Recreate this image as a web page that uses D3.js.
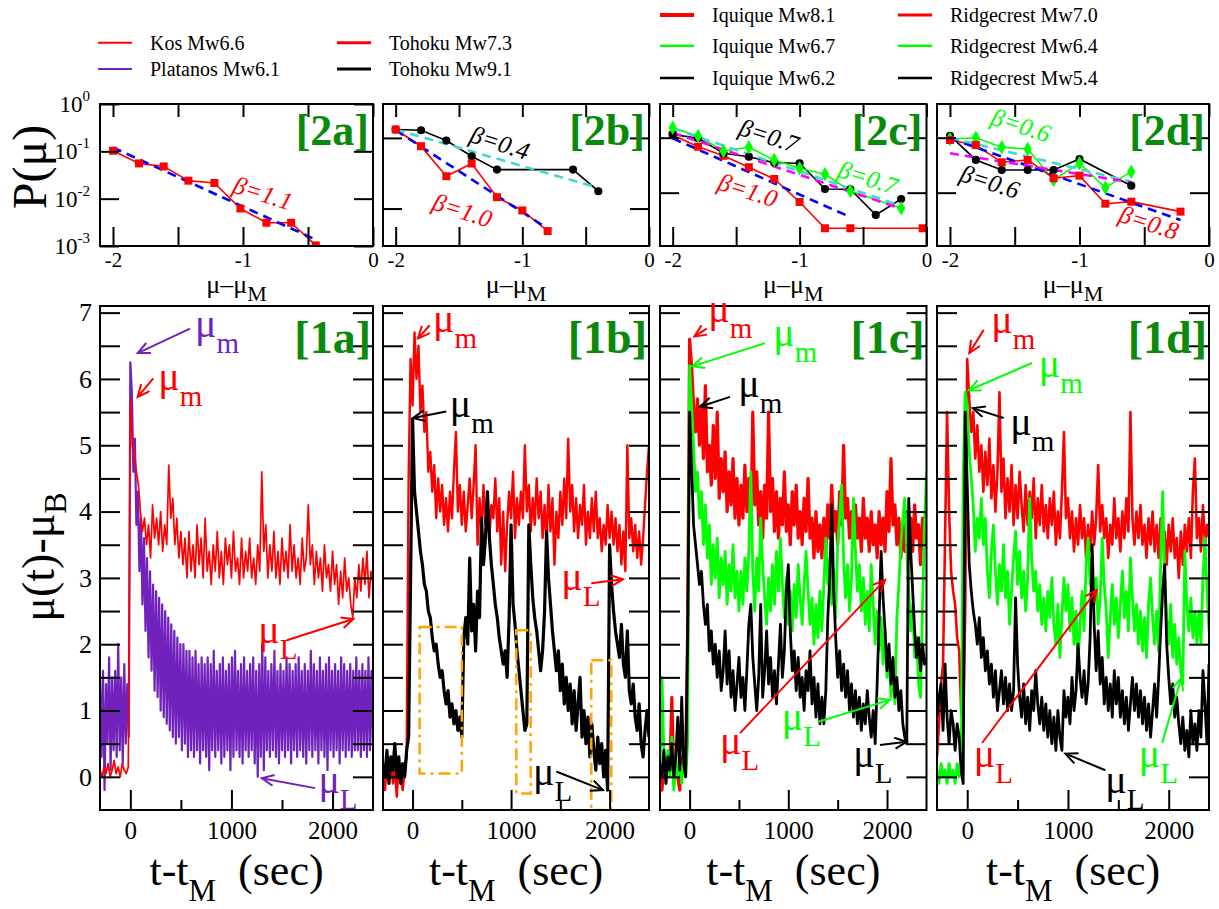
<!DOCTYPE html>
<html>
<head>
<meta charset="utf-8">
<script src="https://cdn.jsdelivr.net/npm/d3@7"></script>
<style>
  body { margin: 0; background: #fff; }
  svg text { font-family: "Liberation Serif", "Times New Roman", serif; }
</style>
</head>
<body>
<div id="chart"></div>
<script>
// ---------- time series mu(t)-mu_B, samples start at t-tM = -300 s ----------
const tStart = -300;
const stepDefault = 20, platanosStep = 15;

const kosMu = [
  0.1, 0.0, 0.15, 0.05, 0.2,  0.0, 0.1, 0.25, 0.05, 0.15,  0.0, 0.2, 0.1, 0.05, 0.15,
  5.7, 5.0, 4.9, 4.6, 4.4,  4.0, 3.7, 3.9, 3.5, 3.8,  3.3, 4.1, 3.6, 3.9, 3.5,
  4.0, 3.4, 3.8, 3.5, 4.7,  3.9, 4.2, 3.5, 3.9, 3.3,  3.7, 3.2, 3.6, 3.0, 3.7,
  3.1, 3.5, 3.0, 3.8, 3.2,  3.6, 3.0, 3.9, 3.1, 3.4,  2.9, 3.5, 3.1, 3.7, 3.0,
  3.4, 2.9, 3.6, 3.2, 3.5,  3.0, 3.7, 3.1, 3.3, 2.9,  3.6, 3.0, 3.4, 3.1, 3.6,
  3.0, 3.3, 2.9, 3.5, 3.1,  4.6, 3.4, 3.8, 3.0, 3.5,  3.1, 3.7, 3.0, 3.4, 2.9,
  3.6, 3.1, 3.4, 3.0, 3.8,  3.1, 3.5, 3.0, 3.3, 2.9,  3.6, 3.1, 3.3, 4.1, 3.2,
  3.5, 2.9, 3.4, 3.0, 3.3,  2.8, 3.5, 3.0, 3.2, 2.8,  3.4, 2.9, 3.2, 2.6, 3.1,
  2.7, 3.3, 2.8, 3.0, 2.6,  2.4, 3.0, 2.7, 3.2, 2.8,  3.3, 2.9, 3.4, 2.7, 3.1,
  2.9
];

const platanosMu = [
  1.5, 0.3, 1.6, -0.2, 1.4, 0.5, 1.8, 0.1, 1.5, 0.4, 1.6, 0.3, 2.0, 0.4, 1.5, 0.2, 1.7, 0.5, 1.4, 0.6,
  6.25, 5.8, 4.6, 5.1, 3.8, 4.3, 3.1, 3.9, 2.6, 3.6,
  2.2, 3.3, 1.8, 3.1, 1.6, 2.9, 1.3, 2.8, 1.2, 2.7,
  1.0, 2.6, 0.9, 2.5, 0.8, 2.4, 0.7, 2.3, 0.6, 2.2,
  0.5, 2.1, 0.6, 2.0, 0.4, 2.0, 0.5, 1.9, 0.3, 1.9,
  0.4, 1.8, 0.3, 1.9, 0.4, 1.7, 0.2, 1.8, 0.4, 1.7,
  0.3, 1.8, 0.1, 1.7, 0.4, 1.9, 0.3, 1.6, 0.4, 1.7,
  0.2, 1.8, 0.3, 1.6, 0.4, 1.7, 0.1, 1.8, 0.3, 1.9,
  0.4, 1.6, 0.3, 1.7, 0.2, 1.8, 0.4, 1.6, 0.3, 1.7,
  0.4, 1.8, 0.2, 1.6, 0.0, 1.7, 0.3, 2.0, 0.1, 1.8,
  0.4, 1.6, 0.3, 1.7, 0.4, 1.9, 0.3, 1.6, 0.2, 1.7,
  0.4, 1.6, 0.3, 1.8, 0.4, 1.7, 0.2, 1.6, 0.4, 1.7,
  0.3, 1.8, 0.4, 1.6, 0.3, 1.7, 0.2, 1.6, 0.4, 1.9,
  0.3, 1.7, 0.4, 1.6, 0.2, 1.8, 0.4, 1.6, 0.3, 1.7,
  0.1, 1.8, 0.4, 1.6, 0.3, 1.7, 0.4, 1.6, 0.2, 1.8,
  0.4, 1.7, 0.3, 1.6, 0.4, 1.7, 0.3, 1.6, 0.4, 1.8,
  0.4, 1.6, 0.3, 1.7, 0.4, 1.6, 0.3, 1.8, 0.4, 1.6,
  0.5
];

const tohoku73Mu = [
  0.1, -0.2, 0.2, 0.0, 0.3,  -0.1, 0.1, -0.3, 0.2, 0.0,  -0.2, 0.1, 0.3, 4.5, 6.3,
  5.6, 6.7, 6.0, 6.5, 5.5,  5.9, 5.2, 5.5, 4.6, 4.9,  4.3, 4.7, 3.9, 4.5, 4.0,
  4.4, 3.8, 4.2, 3.7, 4.3,  3.9, 4.6, 5.2, 4.0, 4.4,  3.8, 4.3, 3.7, 4.1, 4.5,
  3.9, 4.4, 5.0, 3.5, 4.2,  3.7, 4.4, 3.8, 4.2, 3.6,  4.1, 3.9, 4.5, 3.7, 4.2,
  3.2, 4.0, 3.1, 3.8, 4.3,  3.9, 4.6, 3.6, 4.2, 3.8,  4.3, 3.9, 5.0, 4.0, 4.4,
  3.7, 4.2, 3.8, 4.5, 3.9,  4.3, 3.6, 4.1, 3.5, 4.4,  3.7, 4.2, 3.2, 4.0, 3.6,
  4.3, 3.8, 4.5, 3.9, 5.1,  4.0, 4.4, 3.7, 4.2, 3.6,  4.1, 3.8, 4.4, 3.5, 4.0,
  3.6, 4.2, 3.7, 4.3, 3.6,  3.9, 3.4, 3.8, 3.5, 4.1,  3.6, 4.0, 3.5, 3.9, 3.4,
  3.8, 3.2, 3.7, 3.1, 5.0,  3.6, 3.9, 3.4, 3.8, 3.3,  3.7, 3.2, 3.6, 4.1, 4.6,
  5.0
];

const tohoku91Mu = [
  0.2, 0.0, 0.4, -0.1, 0.3,  0.1, 0.5, 0.0, 0.3, -0.1,  0.2, 0.0, 0.4, 0.6, 3.0,
  5.4, 4.3, 4.0, 3.7, 3.4,  3.2, 2.9, 2.8, 2.5, 2.4,  2.1, 1.9, 2.0, 1.7, 1.5,
  1.6, 1.3, 1.1, 1.3, 0.9,  1.1, 0.8, 1.0, 0.7, 0.9,  0.6, 2.1, 2.4, 2.0, 3.3,
  2.2, 2.6, 1.9, 2.8, 2.4,  3.9, 3.2, 3.6, 4.3, 3.6,  3.2, 2.9, 2.6, 2.4, 2.1,
  1.9, 1.7, 1.9, 1.5, 2.4,  3.8, 2.6, 2.3, 1.9, 1.6,  1.3, 1.0, 0.7, 0.8, 3.8,
  3.2, 2.7, 2.4, 2.2, 1.9,  1.6, 1.9, 2.5, 3.7, 3.0,  2.6, 2.2, 1.9, 1.6, 1.9,
  1.3, 1.7, 1.1, 1.5, 1.0,  1.4, 0.8, 1.3, 0.7, 1.1,  1.5, 0.6, 1.0, 0.5, 0.9,
  0.3, 0.8, 0.4, 0.1, 0.6,  0.2, 0.5, 0.0, 0.4, -0.2,  3.5, 2.9, 2.5, 2.2, 2.0,
  1.8, 2.3, 1.7, 1.5, 2.2,  1.3, 1.1, 1.4, 0.9, 0.7,  1.1, 0.5, 0.3, 0.7, 1.0,
  0.6
];

const iquique81Mu = [
  0.1, -0.2, 0.2, 0.0, 0.3,  0.1, 1.2, -0.1, 0.2, 0.0,  -0.2, 0.3, 0.1, 0.2, 2.2,
  6.6, 6.2, 5.6, 5.2, 5.7,  5.0, 5.6, 4.8, 5.9, 4.6,  5.0, 4.4, 5.3, 4.5, 5.5,
  4.2, 4.8, 4.3, 4.9, 4.0,  4.6, 4.1, 4.8, 3.9, 4.5,  3.8, 4.4, 3.9, 4.7, 4.0,
  4.5, 3.7, 5.5, 4.1, 4.6,  3.8, 4.3, 3.6, 4.4, 3.9,  5.5, 4.0, 4.5, 3.7, 4.3,
  3.6, 4.2, 3.8, 4.6, 3.7,  4.1, 3.5, 4.3, 3.8, 4.4,  3.6, 4.0, 3.5, 4.2, 3.7,
  4.5, 3.6, 3.9, 3.3, 4.0,  3.4, 3.8, 3.3, 3.9, 3.4,  4.1, 3.6, 4.4, 3.7, 4.0,
  3.5, 4.3, 3.8, 5.0, 3.9,  4.2, 3.6, 4.0, 3.5, 4.1,  3.6, 3.9, 3.4, 4.2, 3.6,
  3.9, 3.4, 4.0, 3.5, 3.8,  3.3, 4.0, 3.5, 3.9, 3.4,  4.3, 3.7, 4.8, 3.8, 4.1,
  3.5, 3.9, 3.3, 3.8, 3.4,  4.0, 3.5, 3.9, 3.4, 4.1,  3.6, 3.8, 3.2, 3.9, 3.5,
  3.7
];

const iquique67Mu = [
  0.1, 1.5, 0.3, -0.1, 0.4,  0.0, 0.6, -0.2, 0.3, 0.0,  0.2, -0.1, 0.3, 0.0, 0.5,
  6.2, 5.6, 5.0, 4.3, 4.6,  3.9, 4.3, 3.5, 4.1, 3.3,  3.8, 2.9, 3.5, 3.0, 3.6,
  2.7, 3.3, 2.9, 3.4, 2.6,  3.2, 2.8, 3.5, 2.7, 3.1,  2.5, 3.1, 2.6, 3.3, 2.8,
  3.4, 4.6, 3.1, 2.5, 3.3,  2.8, 3.9, 3.2, 2.7, 2.3,  3.0, 2.5, 3.2, 2.6, 3.4,
  2.8, 3.6, 2.9, 2.4, 3.0,  2.3, 2.8, 2.2, 2.9, 2.4,  3.2, 2.7, 2.3, 2.9, 3.4,
  2.8, 2.3, 2.7, 2.0, 2.6,  2.1, 2.8, 2.2, 2.9, 3.6,  2.9, 3.3, 2.6, 3.1, 2.4,
  3.5, 3.9, 4.4, 3.3, 2.7,  3.2, 2.5, 3.0, 4.2, 3.4,  2.8, 3.2, 2.5, 3.0, 2.3,
  2.8, 2.2, 3.2, 2.6, 2.0,  2.5, 1.9, 2.4, 1.7, 2.2,  1.5, 1.9, 1.2, 1.6, 1.1,
  2.4, 2.9, 3.5, 3.9, 4.2,  3.4, 2.8, 2.2, 2.6, 1.8,  2.1, 1.4, 1.2, 2.6, 3.8,
  4.6
];

const iquique62Mu = [
  0.2, 0.0, 0.4, -0.1, 0.3,  0.1, 0.5, 0.0, 0.3, 0.9,  0.1, 1.2, 0.2, 0.0, 2.1,
  5.5, 4.7, 3.8, 3.5, 3.2,  2.9, 3.1, 2.6, 2.3, 2.6,  1.9, 2.2, 1.7, 2.0, 1.5,
  1.9, 1.3, 1.6, 2.2, 1.4,  1.9, 1.2, 1.6, 1.0, 1.4,  1.8, 1.2, 1.5, 1.0, 1.6,
  2.3, 2.6, 1.8, 1.4, 1.0,  1.5, 2.6, 1.2, 1.6, 2.2,  1.4, 1.8, 1.2, 1.6, 1.1,
  1.7, 2.3, 1.5, 1.9, 2.8,  3.2, 2.2, 1.6, 1.9, 1.3,  1.8, 1.2, 1.5, 1.0, 1.6,
  1.3, 1.9, 1.1, 1.5, 0.9,  1.4, 0.8, 1.2, 0.8, 1.3,  2.4, 3.0, 4.1, 2.8, 2.1,
  1.5, 1.9, 1.3, 1.7, 1.2,  1.6, 1.0, 1.4, 0.9, 1.3,  0.8, 1.2, 0.7, 1.1, 0.8,
  1.3, 0.9, 0.6, 1.0, 0.5,  1.4, 2.4, 3.4, 2.7, 2.2,  1.6, 2.0, 1.4, 1.8, 1.2,
  1.5, 1.0, 1.3, 0.8, 0.6,  0.5, 4.2, 3.4, 2.8, 2.2,  1.8, 2.1, 1.6, 2.0, 1.7,
  1.8
];

const ridge70Mu = [
  0.3, 0.8, 1.4, 1.7, 3.6,  5.5, 4.0, 3.1, 2.8, 2.6,  2.1, 1.9, 1.0, 0.8, 2.5,
  6.3, 5.7, 5.2, 5.5, 4.8,  5.3, 4.6, 5.0, 4.3, 4.9,  4.4, 5.1, 4.2, 4.7, 4.0,
  4.6, 5.8, 4.3, 4.8, 3.9,  4.5, 4.0, 4.7, 3.8, 4.4,  3.9, 4.6, 4.1, 3.7, 4.4,
  3.8, 4.3, 3.9, 4.5, 3.6,  4.2, 3.8, 4.4, 3.7, 4.1,  3.6, 4.2, 3.8, 4.3, 3.5,
  4.0, 3.6, 4.3, 5.2, 3.9,  4.2, 3.6, 4.0, 3.4, 3.9,  3.5, 4.1, 3.6, 3.9, 3.3,
  3.8, 3.4, 4.0, 3.5, 3.9,  4.7, 3.7, 4.1, 3.6, 3.9,  3.3, 3.8, 3.5, 4.2, 3.6,
  3.9, 3.4, 4.0, 3.6, 4.2,  3.7, 5.5, 3.9, 3.5, 4.0,  3.6, 4.1, 3.5, 3.8, 3.3,
  3.9, 3.5, 4.0, 3.4, 3.8,  3.3, 3.9, 3.5, 3.7, 3.2,  3.8, 3.4, 3.9, 3.3, 3.6,
  3.0, 3.7, 3.2, 3.8, 3.4,  3.9, 3.3, 4.3, 4.8, 3.6,  3.9, 3.4, 4.1, 3.5, 3.8,
  3.6
];

const ridge64Mu = [
  0.1, -0.1, 0.2, 0.0, 0.1,  -0.1, 0.2, 0.0, 0.1, -0.1,  0.2, 0.0, 0.1, 4.5, 5.8,
  5.6, 4.9, 4.5, 4.1, 3.4,  3.9, 3.6, 4.2, 3.5, 3.9,  3.1, 2.7, 3.4, 3.8, 3.1,
  2.6, 3.2, 2.8, 3.5, 2.7,  3.1, 2.3, 2.8, 3.3, 3.7,  2.9, 3.4, 2.7, 3.1, 2.5,
  3.0, 4.2, 3.3, 2.8, 3.1,  2.5, 2.9, 2.3, 2.7, 2.2,  2.8, 2.4, 3.0, 2.3, 2.0,
  2.6, 1.8, 2.4, 3.0, 2.5,  2.9, 2.2, 2.7, 2.0, 2.5,  1.7, 2.3, 2.8, 2.2, 3.2,
  3.6, 2.9, 3.3, 2.6, 3.0,  2.3, 2.7, 3.6, 2.9, 2.5,  1.8, 2.4, 2.9, 2.3, 2.7,
  2.1, 2.6, 3.1, 2.4, 2.8,  2.2, 3.3, 2.7, 2.2, 2.6,  2.0, 2.5, 1.9, 2.4, 1.8,
  2.6, 3.0, 2.4, 2.0, 2.5,  1.9, 3.2, 4.3, 3.0, 2.4,  2.0, 2.6, 1.8, 2.3, 1.7,
  2.1, 1.6, 1.4, 3.4, 2.6,  2.2, 2.7, 2.1, 2.5, 2.0,  2.5, 2.0, 3.0, 3.6, 2.8,
  2.2
];

const ridge54Mu = [
  0.9, 1.2, 1.4, 0.7, 1.7,  0.9, 0.5, 1.0, 0.8, 0.4,  0.8, 0.6, 0.1, -0.1, 5.5,
  4.4, 3.2, 2.8, 2.5, 2.3,  2.0, 2.4, 1.8, 2.1, 1.6,  1.9, 1.4, 1.7, 1.2, 1.6,
  1.0, 1.3, 1.6, 1.1, 1.5,  1.0, 1.4, 1.0, 1.3, 2.7,  1.7, 1.2, 0.9, 1.4, 0.8,
  1.2, 0.7, 1.3, 1.0, 1.6,  1.1, 0.8, 1.2, 0.7, 1.1,  0.6, 1.0, 0.5, 0.9, 0.4,
  1.0, 0.6, 0.4, 1.3, 0.9,  1.2, 0.8, 1.5, 1.0, 1.3,  2.0, 1.5, 1.2, 1.6, 1.1,
  1.4, 2.1, 3.5, 2.3, 1.6,  2.2, 1.4, 1.8, 1.1, 1.5,  1.0, 1.4, 0.9, 1.6, 1.1,
  1.5, 0.9, 1.3, 0.8, 1.2,  0.7, 1.1, 1.5, 1.0, 1.4,  0.9, 1.3, 0.8, 1.2, 0.7,
  1.1, 0.6, 1.0, 1.4, 0.9,  1.5, 2.2, 2.8, 3.2, 2.0,  1.5, 1.1, 1.4, 0.9, 1.2,
  0.8, 0.5, 0.9, 0.4, 0.7,  0.3, 1.0, 0.5, 0.8, 0.4,  1.0, 0.6, 1.6, 1.1, 0.5,
  1.7
];

// highlighted windows in panel 1b: [t0, t1, mu0, mu1]
const tohokuWindows = [[72, 500, 0.05, 2.26], [1053, 1199, -0.25, 2.21], [1814, 2017, -0.5, 1.76]];

// ---------- distributions P(mu) against mu - mu_M ----------
const kosDx = [-2, -1.8, -1.61, -1.42, -1.22, -1.02, -0.82, -0.63, -0.44];
const kosP  = [0.103, 0.0556, 0.048, 0.024, 0.0214, 0.0062, 0.0031, 0.0031, 0.00103];
const tohoku73Dx = [-2, -1.8, -1.6, -1.4, -1.2, -1.0, -0.8];
const tohoku73P  = [0.1315, 0.0763, 0.0287, 0.0434, 0.0145, 0.0094, 0.0048];
const tohoku91Dx = [-2, -1.8, -1.6, -1.4, -1.2, -0.6, -0.4];
const tohoku91P  = [0.1315, 0.1285, 0.0919, 0.0551, 0.0356, 0.0356, 0.0176];
const iquique81Dx = [-2, -1.8, -1.6, -1.4, -1.2, -1.0, -0.8, -0.6, -0.03];
const iquique81P  = [0.112, 0.0686, 0.0471, 0.029, 0.01775, 0.00678, 0.00225, 0.00225, 0.00225];
const iquique67Dx = [-2, -1.8, -1.6, -1.4, -1.2, -1.0, -0.8, -0.6, -0.2];
const iquique67P  = [0.152, 0.1074, 0.0573, 0.0668, 0.0394, 0.0278, 0.0216, 0.01074, 0.0052];
const iquique62Dx = [-2, -1.8, -1.6, -1.4, -1.2, -1.0, -0.8, -0.6, -0.4, -0.2];
const iquique62P  = [0.115, 0.0975, 0.052, 0.0451, 0.0351, 0.0343, 0.01167, 0.01153, 0.00394, 0.00767];
const ridge70Dx = [-2, -1.8, -1.6, -1.4, -1.2, -1.0, -0.8, -0.6, -0.22];
const ridge70P  = [0.0908, 0.0736, 0.0357, 0.0394, 0.0183, 0.0204, 0.0063, 0.00686, 0.00452];
const ridge64Dx = [-2, -1.8, -1.6, -1.4, -1.2, -1.0, -0.8, -0.6];
const ridge64P  = [0.0947, 0.1, 0.0668, 0.0623, 0.017, 0.0343, 0.0123, 0.0241];
const ridge54Dx = [-2, -1.8, -1.6, -1.4, -1.2, -1.0, -0.6];
const ridge54P  = [0.1087, 0.0394, 0.0259, 0.0259, 0.0259, 0.041, 0.0134];

// fitted power laws, end points [x0, x1], [P0, P1]
const fitKos        = [[-2, -0.45], [0.12, 0.0014]];
const fitTohoku73   = [[-2, -0.84], [0.1285, 0.0058]];
const fitTohoku91   = [[-2, -0.4], [0.1315, 0.0196]];
const fitIquique81  = [[-2, -0.62], [0.0975, 0.00377]];
const fitIquique67  = [[-2, -0.22], [0.148, 0.00597]];
const fitIquique62  = [[-2, -0.22], [0.123, 0.00533]];
const fitRidge70    = [[-2, -0.22], [0.0975, 0.00319]];
const fitRidge64    = [[-2, -0.6], [0.1, 0.0158]];
const fitRidge54    = [[-2, -0.6], [0.052, 0.01545]];

const legendNames = [
  ["Kos Mw6.6", "Platanos Mw6.1"],
  ["Tohoku Mw7.3", "Tohoku Mw9.1"],
  ["Iquique Mw8.1", "Iquique Mw6.7", "Iquique Mw6.2"],
  ["Ridgecrest Mw7.0", "Ridgecrest Mw6.4", "Ridgecrest Mw5.4"]
];
const panelTags = ["a", "b", "c", "d"];

// ---------- colours ----------
const RED = "#ff0000", PURPLE = "#7122bd", GREEN = "#00ff00", BLACK = "#000000";
const BLUE = "#0000ff", CYAN = "#40d8d0", MAGENTA = "#ff00ff", TAG = "#0a8a0a", ORANGE = "#ffa500";
const SERIF = '"Liberation Serif", "Times New Roman", Times, serif';

// ---------- layout ----------
const panelX = [[100, 373], [383, 649], [660, 926.5], [937, 1209]];
const topY = [104, 246], botY = [306, 810];
const tDomain = [-300, 2400], muDomain = [-0.5, 7.1];
const logDomains = [[1e-3, 1], [10 ** -2.53, 10 ** -0.52], [10 ** -2.97, 10 ** -0.387], [10 ** -2.97, 10 ** -0.387]];
const logTicks = [[1, 0.1, 0.01, 0.001], [0.1, 0.01], [0.1, 0.01], [0.1, 0.01]];

const bottomSeries = [
  [{v: platanosMu, step: platanosStep, c: PURPLE, w: 2.2}, {v: kosMu, step: stepDefault, c: RED, w: 1.7}],
  [{v: tohoku73Mu, step: stepDefault, c: RED, w: 2.4}, {v: tohoku91Mu, step: stepDefault, c: BLACK, w: 3.2}],
  [{v: iquique81Mu, step: stepDefault, c: RED, w: 3.2}, {v: iquique67Mu, step: stepDefault, c: GREEN, w: 2.8},
   {v: iquique62Mu, step: stepDefault, c: BLACK, w: 2.8}],
  [{v: ridge70Mu, step: stepDefault, c: RED, w: 2.6}, {v: ridge64Mu, step: stepDefault, c: GREEN, w: 2.8},
   {v: ridge54Mu, step: stepDefault, c: BLACK, w: 2.8}]
];

const topSeries = [
  [{x: kosDx, p: kosP, c: RED, m: d3.symbolSquare}],
  [{x: tohoku91Dx, p: tohoku91P, c: BLACK, m: d3.symbolCircle}, {x: tohoku73Dx, p: tohoku73P, c: RED, m: d3.symbolSquare}],
  [{x: iquique81Dx, p: iquique81P, c: RED, m: d3.symbolSquare}, {x: iquique62Dx, p: iquique62P, c: BLACK, m: d3.symbolCircle},
   {x: iquique67Dx, p: iquique67P, c: GREEN, m: d3.symbolDiamond}],
  [{x: ridge54Dx, p: ridge54P, c: BLACK, m: d3.symbolCircle}, {x: ridge64Dx, p: ridge64P, c: GREEN, m: d3.symbolDiamond},
   {x: ridge70Dx, p: ridge70P, c: RED, m: d3.symbolSquare}]
];
const topFits = [
  [[fitKos, BLUE]],
  [[fitTohoku73, BLUE], [fitTohoku91, CYAN]],
  [[fitIquique81, BLUE], [fitIquique67, CYAN], [fitIquique62, MAGENTA]],
  [[fitRidge70, BLUE], [fitRidge64, CYAN], [fitRidge54, MAGENTA]]
];
// beta labels: panel, text, colour, x, P
const betaLabels = [
  [0, "β=1.1", RED, -0.846, 0.0132],
  [1, "β=0.4", BLACK, -1.177, 0.086], [1, "β=1.0", RED, -1.473, 0.0095],
  [2, "β=0.7", BLACK, -1.241, 0.11], [2, "β=0.7", GREEN, -0.461, 0.0189], [2, "β=1.0", RED, -1.407, 0.0112],
  [3, "β=0.6", GREEN, -1.451, 0.17], [3, "β=0.6", BLACK, -1.691, 0.016], [3, "β=0.8", RED, -0.463, 0.00288]
];
// mu_m / mu_L notes: panel, subscript, colour, label t, label mu, arrow from (t, mu) to (t, mu)
const muNotes = [
  [0, "m", PURPLE, 640, 6.64, 590, 6.76, 73, 6.39], [0, "m", RED, 277, 5.83, 227, 6.01, 73, 5.73],
  [0, "L", RED, 1266, 2.02, 1547, 2.06, 2206, 2.38], [0, "L", PURPLE, 1860, -0.24, 1827, -0.17, 1300, -0.02],
  [1, "m", RED, 207, 6.71, 174, 6.81, 55, 6.61], [1, "m", BLACK, 377, 5.43, 342, 5.51, 4, 5.41],
  [1, "L", RED, 1509, 2.82, 1814, 2.92, 2136, 2.98], [1, "L", BLACK, 1222, -0.12, 1459, 0.08, 1933, -0.2],
  [2, "m", RED, 189, 6.86, 173, 6.76, 48, 6.64], [2, "m", GREEN, 848, 6.49, 764, 6.54, 27, 6.19],
  [2, "m", BLACK, 493, 5.73, 409, 5.73, 105, 5.58], [2, "L", RED, 308, 0.35, 511, 0.66, 1980, 2.97],
  [2, "L", GREEN, 933, 0.71, 1304, 0.83, 2030, 1.16], [2, "L", BLACK, 1659, 0.15, 1929, 0.48, 2200, 0.53],
  [3, "m", RED, 239, 6.69, 164, 6.74, 21, 6.39], [3, "m", GREEN, 710, 6.03, 643, 6.24, 15, 5.83],
  [3, "m", BLACK, 428, 5.16, 362, 5.41, 55, 5.56], [3, "L", RED, 65, 0.15, 147, 0.51, 1288, 2.82],
  [3, "L", GREEN, 1702, 0.15, 1934, 0.51, 2125, 1.49], [3, "L", BLACK, 1371, -0.25, 1371, 0.1, 974, 0.35]
];

const svg = d3.select("#chart").append("svg")
    .attr("width", 1219)
    .attr("height", 909)
    .attr("font-family", SERIF);
const defs = svg.append("defs");

// open arrow heads, one per colour
const arrowColours = {red: RED, purple: PURPLE, green: GREEN, black: BLACK};
Object.entries(arrowColours).forEach(([name, c]) => {
  defs.append("marker")
      .attr("id", "arr-" + name)
      .attr("markerUnits", "userSpaceOnUse")
      .attr("markerWidth", 16).attr("markerHeight", 14)
      .attr("refX", 13).attr("refY", 6)
      .attr("orient", "auto")
    .append("path")
      .attr("d", "M1,0.5 L13,6 L1,11.5")
      .attr("fill", "none")
      .attr("stroke", c)
      .attr("stroke-width", 2);
});
const arrowId = c => "arr-" + Object.keys(arrowColours).find(k => arrowColours[k] === c);

function styleAxis(g, size) {
  g.select(".domain").remove();
  g.selectAll(".tick line").attr("stroke-width", 2);
  g.attr("font-family", SERIF).attr("font-size", size);
  g.selectAll("text").attr("fill", "#000");
}

// ---------- bottom row: time series ----------
panelX.forEach(([x0, x1], i) => {
  const x = d3.scaleLinear().domain(tDomain).range([x0, x1]);
  const y = d3.scaleLinear().domain(muDomain).range([botY[1], botY[0]]);

  defs.append("clipPath").attr("id", "clipB" + i)
    .append("rect").attr("x", x0).attr("y", botY[0]).attr("width", x1 - x0).attr("height", botY[1] - botY[0]);

  const plot = svg.append("g").attr("clip-path", `url(#clipB${i})`);
  bottomSeries[i].forEach(s => {
    const line = d3.line()
        .x((d, j) => x(tStart + j * s.step))
        .y(d => y(d));
    plot.append("path")
        .datum(s.v)
        .attr("d", line)
        .attr("fill", "none")
        .attr("stroke", s.c)
        .attr("stroke-width", s.w)
        .attr("stroke-linejoin", "round");
  });

  if (i === 1) {
    tohokuWindows.forEach(([ta, tb, ma, mb]) => {
      plot.append("rect")
          .attr("x", x(ta)).attr("y", y(mb))
          .attr("width", x(tb) - x(ta)).attr("height", y(ma) - y(mb))
          .attr("fill", "none")
          .attr("stroke", ORANGE)
          .attr("stroke-width", 2.5)
          .attr("stroke-dasharray", "12,5,3,5");
    });
  }

  // axes, ticks inside
  const muTicks = d3.range(0, 7.01, 0.5);
  svg.append("g").attr("transform", `translate(0,${botY[1]})`)
      .call(d3.axisBottom(x).tickValues([0, 1000, 2000]).tickSize(-20).tickPadding(11).tickFormat(d => d))
      .call(g => styleAxis(g, 25));
  svg.append("g").attr("transform", `translate(0,${botY[1]})`)
      .call(d3.axisBottom(x).tickValues([500, 1500]).tickSize(-10).tickFormat(""))
      .call(g => styleAxis(g, 25));
  svg.append("g").attr("transform", `translate(${x0},0)`)
      .call(d3.axisLeft(y).tickValues(muTicks).tickSize(-20).tickPadding(8)
        .tickFormat(d => (i === 0 && Number.isInteger(d)) ? d : ""))
      .call(g => styleAxis(g, 26));
  svg.append("g").attr("transform", `translate(${x1},0)`)
      .call(d3.axisRight(y).tickValues(muTicks).tickSize(-20).tickFormat(""))
      .call(g => styleAxis(g, 26));

  svg.append("rect")
      .attr("x", x0).attr("y", botY[0])
      .attr("width", x1 - x0).attr("height", botY[1] - botY[0])
      .attr("fill", "none").attr("stroke", "#000").attr("stroke-width", 2);

  // mu_m and mu_L notes
  muNotes.filter(n => n[0] === i).forEach(([, sub, c, lt, lv, ft, fv, tt, tv]) => {
    const t = svg.append("text").attr("x", x(lt)).attr("y", y(lv)).attr("fill", c);
    t.append("tspan").attr("font-size", 40).text("μ");
    t.append("tspan").attr("font-size", 29).attr("dy", 16).text(sub);
    svg.append("line")
        .attr("x1", x(ft)).attr("y1", y(fv))
        .attr("x2", x(tt)).attr("y2", y(tv))
        .attr("stroke", c).attr("stroke-width", 2)
        .attr("marker-end", `url(#${arrowId(c)})`);
  });

  svg.append("text")
      .attr("x", x1 - 2).attr("y", botY[0] + 47)
      .attr("text-anchor", "end")
      .attr("font-size", 46).attr("font-weight", "bold")
      .attr("fill", TAG)
      .text(`[1${panelTags[i]}]`);

  const xl = svg.append("text")
      .attr("x", (x0 + x1) / 2).attr("y", 885)
      .attr("text-anchor", "middle").attr("font-size", 44);
  xl.append("tspan").text("t-t");
  xl.append("tspan").attr("font-size", 31).attr("dy", 16).text("M");
  xl.append("tspan").attr("dy", -16).text("\u00a0\u00a0(sec)");
});

// ---------- top row: distributions ----------
panelX.forEach(([x0, x1], i) => {
  const x = d3.scaleLinear().domain([-2.1, 0]).range([x0, x1]);
  const y = d3.scaleLog().domain(logDomains[i]).range([topY[1], topY[0]]);

  defs.append("clipPath").attr("id", "clipT" + i)
    .append("rect").attr("x", x0).attr("y", topY[0]).attr("width", x1 - x0).attr("height", topY[1] - topY[0]);
  const plot = svg.append("g").attr("clip-path", `url(#clipT${i})`);

  const line = d3.line().x(d => x(d[0])).y(d => y(d[1]));
  topSeries[i].forEach(s => {
    plot.append("path")
        .datum(d3.zip(s.x, s.p))
        .attr("d", line)
        .attr("fill", "none").attr("stroke", s.c).attr("stroke-width", 1.6);
  });
  topFits[i].forEach(([f, c]) => {
    plot.append("path")
        .datum(d3.zip(f[0], f[1]))
        .attr("d", line)
        .attr("fill", "none").attr("stroke", c).attr("stroke-width", 2.6)
        .attr("stroke-dasharray", "9,6");
  });
  topSeries[i].forEach(s => {
    const size = s.m === d3.symbolSquare ? 64 : s.m === d3.symbolCircle ? 52 : 60;
    plot.selectAll(null)
        .data(d3.zip(s.x, s.p))
        .join("path")
        .attr("transform", d => `translate(${x(d[0])},${y(d[1])})`)
        .attr("d", d3.symbol().type(s.m).size(size))
        .attr("fill", s.c);
  });

  const xt = [-2, -1.5, -1, -0.5, 0];
  svg.append("g").attr("transform", `translate(0,${topY[1]})`)
      .call(d3.axisBottom(x).tickValues(xt).tickSize(-19).tickPadding(6)
        .tickFormat(d => Number.isInteger(d) ? `${d}` : ""))
      .call(g => styleAxis(g, 21));
  svg.append("g").attr("transform", `translate(0,${topY[0]})`)
      .call(d3.axisTop(x).tickValues(xt).tickSize(-13).tickFormat(""))
      .call(g => styleAxis(g, 21));
  svg.append("g").attr("transform", `translate(${x0},0)`)
      .call(d3.axisLeft(y).tickValues(logTicks[i]).tickSize(-19).tickFormat(""))
      .call(g => styleAxis(g, 21));
  svg.append("g").attr("transform", `translate(${x1},0)`)
      .call(d3.axisRight(y).tickValues(logTicks[i]).tickSize(-19).tickFormat(""))
      .call(g => styleAxis(g, 21));

  svg.append("rect")
      .attr("x", x0).attr("y", topY[0])
      .attr("width", x1 - x0).attr("height", topY[1] - topY[0])
      .attr("fill", "none").attr("stroke", "#000").attr("stroke-width", 2);

  if (i === 0) {
    logTicks[0].forEach(d => {
      const t = svg.append("text")
          .attr("x", x0 - 10).attr("y", y(d) + 8)
          .attr("text-anchor", "end").attr("font-size", 23);
      t.append("tspan").text("10");
      t.append("tspan").attr("font-size", 15).attr("dy", -11).text(Math.round(Math.log10(d)));
    });
  }

  betaLabels.filter(b => b[0] === i).forEach(([, txt, c, bx, bp]) => {
    svg.append("text")
        .attr("transform", `translate(${x(bx)},${y(bp)}) rotate(18)`)
        .attr("text-anchor", "middle").attr("dy", "0.35em")
        .attr("font-size", 25).attr("font-style", "italic")
        .attr("fill", c)
        .text(txt);
  });

  svg.append("text")
      .attr("x", x1 - 4).attr("y", topY[0] + 41)
      .attr("text-anchor", "end")
      .attr("font-size", 44).attr("font-weight", "bold")
      .attr("fill", TAG)
      .text(`[2${panelTags[i]}]`);

  const xl = svg.append("text")
      .attr("x", (x0 + x1) / 2).attr("y", 293)
      .attr("text-anchor", "middle").attr("font-size", 26);
  xl.append("tspan").text("μ–μ");
  xl.append("tspan").attr("font-size", 22).attr("dy", 8).text("M");
});

// ---------- axis titles ----------
const yl = svg.append("text")
    .attr("transform", "translate(54,557) rotate(-90)")
    .attr("text-anchor", "middle").attr("font-size", 46);
yl.append("tspan").text("μ(t)-μ");
yl.append("tspan").attr("font-size", 32).attr("dy", 12).text("B");

svg.append("text")
    .attr("transform", "translate(46,167) rotate(-90)")
    .attr("text-anchor", "middle").attr("font-size", 48)
    .text("P(μ)");

// ---------- legend ----------
const legendX = [98, 337, 660, 898];
const legendY = [[42.7, 69], [42.7, 69], [15, 45.7, 78], [15, 45.7, 78]];
const legendColours = [[RED, PURPLE], [RED, BLACK], [RED, GREEN, BLACK], [RED, GREEN, BLACK]];
const legendWidths = [[2, 2], [3, 3], [4, 2.5, 2.5], [3, 2.5, 2.5]];
legendNames.forEach((names, k) => {
  names.forEach((name, j) => {
    const ly = legendY[k][j];
    svg.append("line")
        .attr("x1", legendX[k]).attr("x2", legendX[k] + 34)
        .attr("y1", ly).attr("y2", ly)
        .attr("stroke", legendColours[k][j]).attr("stroke-width", legendWidths[k][j]);
    svg.append("text")
        .attr("x", legendX[k] + 52).attr("y", ly + 7)
        .attr("font-size", 20)
        .text(name);
  });
});
</script>
</body>
</html>
